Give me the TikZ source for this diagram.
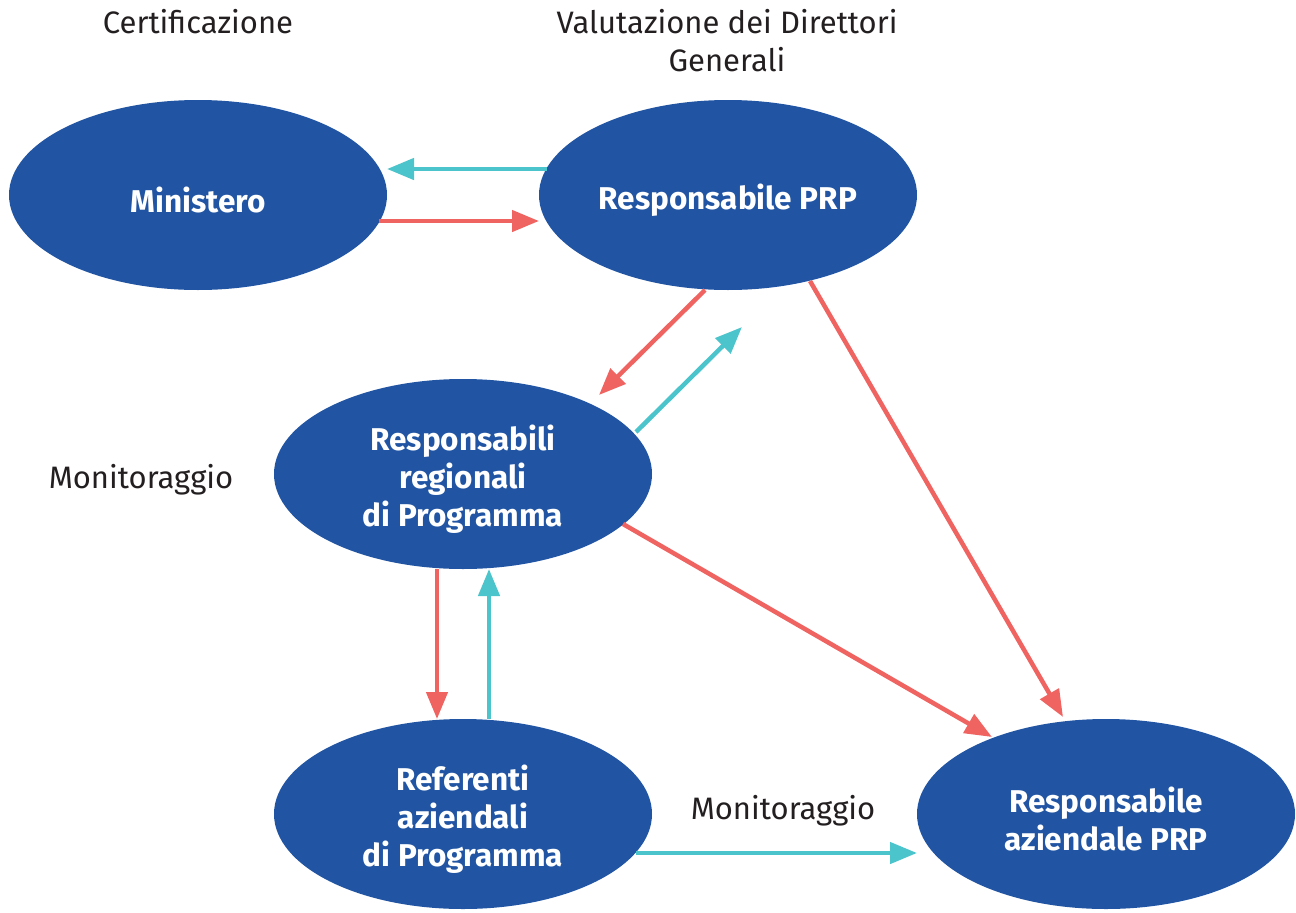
\documentclass[tikz,border=0pt]{standalone}
\usepackage{fontspec}
\setmainfont{Fira Sans}
\usetikzlibrary{arrows.meta,shapes.geometric,calc}
\definecolor{nodeblue}{HTML}{2155A3}
\definecolor{arrred}{HTML}{EF6461}
\definecolor{arrcyan}{HTML}{4BC4CB}
\definecolor{txtgray}{HTML}{231F20}
\tikzset{
  elltext/.style={text=white, align=center, inner sep=0pt,
    font=\fontsize{31.5}{38}\selectfont\bfseries},
  ell/.style={ellipse, fill=nodeblue, minimum width=378pt, minimum height=190pt,
    inner sep=0pt, outer sep=0pt,
    label={[elltext, yshift=-5pt]center:{#1}}},
  lbl/.style={text=txtgray, align=center, inner sep=0pt,
    font=\fontsize{31}{38}\selectfont},
  conn/.style={line width=4.5pt, -{Triangle[length=27pt,width=21pt]}},
  redc/.style={conn, draw=arrred},
  cyanc/.style={conn, draw=arrcyan},
}
\begin{document}
\begin{tikzpicture}[x=1pt,y=-1pt]
\useasboundingbox (0,0) rectangle (1296,913);
\node[ell={Ministero}] (min) at (198,195) {};
\node[ell={Responsabile PRP}] (prp) at (728,195) {};
\node[ell={Responsabili\\regionali\\di Programma}] (reg) at (463,474) {};
\node[ell={Referenti\\aziendali\\di Programma}] (ref) at (463,814) {};
\node[ell={Responsabile\\aziendale PRP}] (az) at (1106,814) {};

\node[lbl] (cert) at (198,22) {Certificazione};
\node[lbl] (val) at (727,41) {Valutazione dei Direttori\\Generali};
\node[lbl] (mon1) at (141,480) {Monitoraggio};
\node[lbl] (mon2) at (783,811) {Monitoraggio};

% Ministero <-> PRP
\draw[cyanc] ([yshift=26pt,xshift=8pt]prp.west) -- ([yshift=26pt]min.east);
\draw[redc] ([yshift=-26pt,xshift=-8pt]min.east) -- ([yshift=-26pt]prp.west);
% PRP <-> Regionali
\draw[redc] ([xshift=-23pt]prp.south) -- ([shift={(136pt,79pt)}]reg.center);
\draw[cyanc] ([shift={(173pt,42pt)}]reg.center) -- ([shift={(14pt,-132pt)}]prp.center);
% Regionali <-> Referenti
\draw[redc] ([xshift=-26pt]reg.south) -- ([xshift=-26pt]ref.north);
\draw[cyanc] ([xshift=26pt]ref.north) -- ([xshift=26pt]reg.south);
% to aziendale
\draw[redc] ([shift={(82pt,-86pt)}]prp.center) -- ([shift={(-43pt,97pt)}]az.center);
\draw[redc] ([shift={(160pt,-50pt)}]reg.center) -- ([shift={(-114pt,77pt)}]az.center);
\draw[cyanc] ([shift={(173pt,-39pt)}]ref.center) -- ([yshift=-39pt]az.west);
\end{tikzpicture}
\end{document}
